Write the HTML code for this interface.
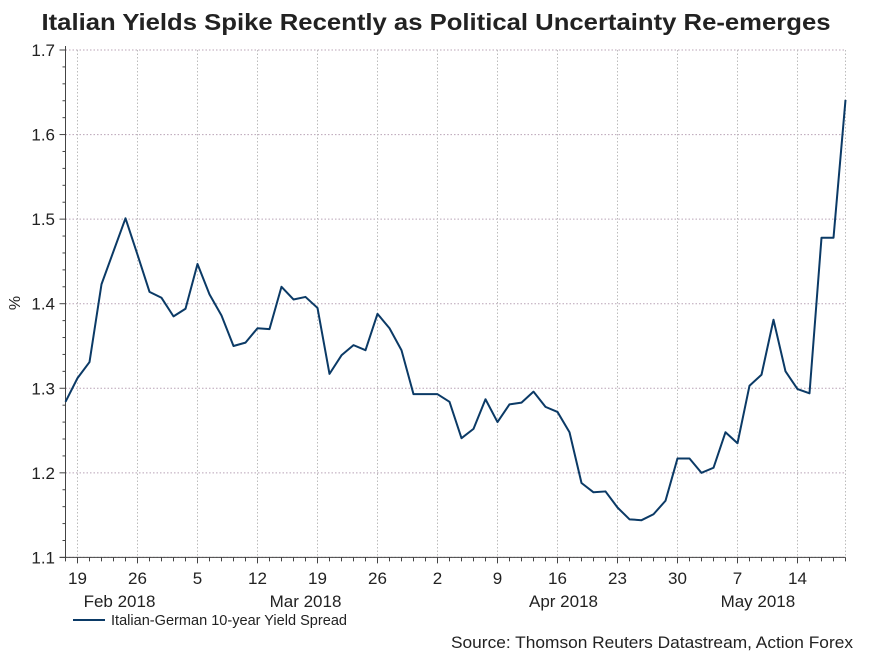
<!DOCTYPE html>
<html><head><meta charset="utf-8"><style>
body{margin:0;background:#fff;}
svg text{font-family:"Liberation Sans",Arial,sans-serif;fill:#222;}
</style></head><body>
<svg width="872" height="654" xmlns="http://www.w3.org/2000/svg">
<rect width="872" height="654" fill="#fff"/>
<text x="436" y="30" text-anchor="middle" font-size="23" font-weight="bold" fill="#000" textLength="789" lengthAdjust="spacingAndGlyphs">Italian Yields Spike Recently as Political Uncertainty Re-emerges</text>
<g id="grid"></g><g id="axes"></g><g id="series"></g>
<text x="20" y="303" font-size="16" text-anchor="middle" transform="rotate(-90 20 303)">%</text>
<g>
<line x1="73" y1="620" x2="105" y2="620" stroke="#0b3a66" stroke-width="2"/>
<text x="111" y="625" font-size="14.5" textLength="236" lengthAdjust="spacingAndGlyphs">Italian-German 10-year Yield Spread</text>
</g>
<text x="853" y="648" font-size="17" text-anchor="end" textLength="402" lengthAdjust="spacingAndGlyphs">Source: Thomson Reuters Datastream, Action Forex</text>
</svg>
<script>
const values=[1.284,1.312,1.331,1.423,1.462,1.501,1.458,1.414,1.407,1.385,1.394,1.447,1.411,1.386,1.350,1.354,1.371,1.370,1.420,1.405,1.408,1.395,1.317,1.339,1.351,1.345,1.388,1.371,1.345,1.293,1.293,1.293,1.284,1.241,1.252,1.287,1.260,1.281,1.283,1.296,1.278,1.272,1.248,1.188,1.177,1.178,1.159,1.145,1.144,1.151,1.167,1.217,1.217,1.200,1.206,1.248,1.235,1.303,1.316,1.381,1.320,1.299,1.294,1.478,1.478,1.641];
const yTicks=[1.1,1.2,1.3,1.4,1.5,1.6,1.7];
const weekLabels=["19","26","5","12","19","26","2","9","16","23","30","7","14"];
const weekIndex=[1,6,11,16,21,26,31,36,41,46,51,56,61];
const months=["Feb 2018","Mar 2018","Apr 2018","May 2018"];
const monthCenter=[4.5,20,41.5,57.7];
const NS="http://www.w3.org/2000/svg";
const X0=65.5,DX=12,Y0=557.4,YMIN=1.1,YMAX=1.7,Y1=50;
const xs=i=>X0+DX*i;
const ys=v=>Y0-(v-YMIN)/(YMAX-YMIN)*(Y0-Y1);
function mk(t,a,p){const e=document.createElementNS(NS,t);for(const k in a)e.setAttribute(k,a[k]);p.appendChild(e);return e;}
const grid=document.getElementById('grid'),axes=document.getElementById('axes'),ser=document.getElementById('series');
const XR=xs(values.length-1);
yTicks.forEach(v=>{
 const g=mk('line',{x1:X0,x2:XR,y1:ys(v),y2:ys(v),stroke:'#b9a3b6','stroke-dasharray':'1.5 2','stroke-width':1},grid);
 
 
 const t=mk('text',{x:55,y:ys(v)+6,'font-size':17,'text-anchor':'end'},axes);t.textContent=String(v);
 
 
});
for(let v=YMIN;v<=YMAX+1e-9;v+=0.02){mk('line',{x1:X0-(Math.abs(v*10-Math.round(v*10))<1e-6?6:3),x2:X0,y1:ys(v),y2:ys(v),stroke:'#444'},axes);}
weekIndex.forEach((idx,k)=>{
 const g=mk('line',{x1:xs(idx),x2:xs(idx),y1:Y1,y2:Y0,stroke:'#bcbcbc','stroke-dasharray':'1.5 2'},grid);
 
 
 const t=mk('text',{x:xs(idx),y:584,'font-size':17,'text-anchor':'middle'},axes);t.textContent=weekLabels[k];
 
 
});
mk('line',{x1:XR,x2:XR,y1:Y1,y2:Y0,stroke:'#bcbcbc','stroke-dasharray':'1.5 2'},grid);
for(let i=0;i<values.length;i++){mk('line',{x1:xs(i),x2:xs(i),y1:Y0,y2:Y0+(weekIndex.includes(i)?6:4),stroke:'#444'},axes);}
months.forEach((m,k)=>{const t=mk('text',{x:xs(monthCenter[k]),y:607,'font-size':17,'text-anchor':'middle'},axes);t.textContent=m;
 
 });
const la=mk('line',{x1:X0,x2:X0,y1:Y1-4,y2:Y0,stroke:'#444'},axes);


const lb=mk('line',{x1:X0-6,x2:XR,y1:Y0,y2:Y0,stroke:'#444'},axes);


const p=mk('polyline',{points:values.map((v,i)=>xs(i)+','+ys(v)).join(' '),fill:'none',stroke:'#0b3a66','stroke-width':2,'stroke-linejoin':'round'},ser);


</script>
</body></html>
